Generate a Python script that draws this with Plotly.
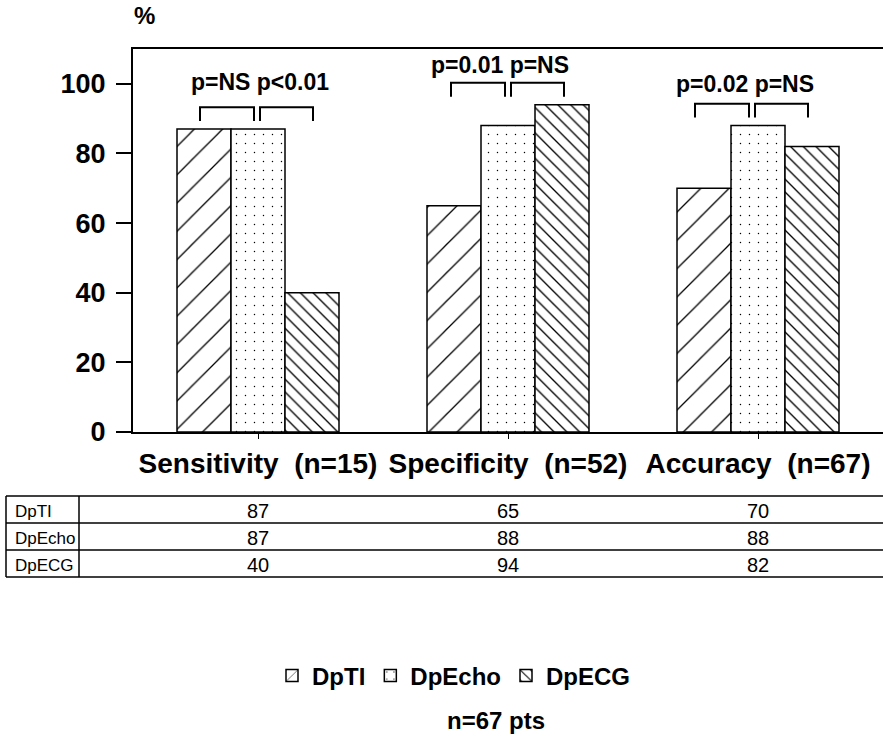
import plotly.graph_objects as go

# ---- data -------------------------------------------------------------
categories = ["Sensitivity", "Specificity", "Accuracy"]
group_n = [15, 52, 67]
methods = ["DpTI", "DpEcho", "DpECG"]
dpti = [87, 65, 70]
dpecho = [87, 88, 88]
dpecg = [40, 94, 82]
p_tl_vs_echo = ["p=NS", "p=0.01", "p=0.02"]
p_echo_vs_ecg = ["p<0.01", "p=NS", "p=NS"]
y_ticks = [0, 20, 40, 60, 80, 100]
total_pts = 67

series = [dpti, dpecho, dpecg]

# ---- styling ----------------------------------------------------------
FONT = "Liberation Sans, Arial, Helvetica, sans-serif"
W, H = 883, 742
ML, MR, MT, MB = 133, 0, 49, 310
PLOT_W = W - ML - MR
PLOT_H = H - MT - MB

patterns = [
    dict(shape="/", size=20, solidity=0.065),
    dict(shape=".", size=9, solidity=0.02),
    dict(shape="\\", size=9, solidity=0.15),
]


def px_x(x):
    """pixel column -> paper x"""
    return (x - ML) / PLOT_W


def px_y(y):
    """pixel row -> paper y"""
    return (MT + PLOT_H - y) / PLOT_H


cat_labels = [f"{c}\u00a0 (n={n})" for c, n in zip(categories, group_n)]

fig = go.Figure()
for name, vals, pat in zip(methods, series, patterns):
    fig.add_trace(go.Bar(
        x=categories, y=vals, name=name,
        marker=dict(
            color="white",
            line=dict(color="black", width=1.5),
            pattern=dict(fgcolor="black", bgcolor="white", fillmode="replace", **pat),
        ),
    ))

# ---- significance brackets and p-value labels ------------------------
bar_w = 0.216
bracket_shift = [0.0, 0.004, -0.02]
text_dx = [0.006, -0.032, -0.054]
text_lift = [7.2, 5.1, 5.7]
shapes = []
annotations = []
for i in range(len(categories)):
    top_bar = max(s[i] for s in series)
    y_leg = top_bar + 2.3
    y_top = y_leg + 4.0
    s = bracket_shift[i]
    spans = [(i - bar_w - 0.016 + s, i - 0.016 + s),
             (i + 0.008 + s, i + bar_w + 0.004 + s)]
    for x0, x1 in spans:
        shapes.append(dict(
            type="path", xref="x", yref="y",
            path=f"M{x0},{y_leg} L{x0},{y_top} L{x1},{y_top} L{x1},{y_leg}",
            line=dict(color="black", width=2),
        ))
    annotations.append(dict(
        x=i + text_dx[i], y=y_top + text_lift[i], xref="x", yref="y",
        text=f"{p_tl_vs_echo[i]} {p_echo_vs_ecg[i]}", showarrow=False,
        xanchor="center", yanchor="middle",
        font=dict(family=FONT, size=23, color="black", weight="bold"),
    ))

# ---- "%" unit label ---------------------------------------------------
annotations.append(dict(
    x=px_x(144), y=px_y(16), xref="paper", yref="paper", text="%",
    showarrow=False, xanchor="center", yanchor="middle",
    font=dict(family=FONT, size=24, color="black", weight="bold"),
))

# ---- value table below the axis --------------------------------------
row_lines = [496, 523, 550, 577]
tab_left, tab_div, tab_right = 6, 79, W
for yy in row_lines:
    shapes.append(dict(type="line", xref="paper", yref="paper",
                       x0=px_x(tab_left), x1=px_x(tab_right),
                       y0=px_y(yy), y1=px_y(yy),
                       line=dict(color="black", width=1.5)))
for xx in (tab_left, tab_div):
    shapes.append(dict(type="line", xref="paper", yref="paper",
                       x0=px_x(xx), x1=px_x(xx),
                       y0=px_y(row_lines[0]), y1=px_y(row_lines[-1]),
                       line=dict(color="black", width=1.5)))

for r, (name, vals) in enumerate(zip(methods, series)):
    yc = (row_lines[r] + row_lines[r + 1]) / 2 + 1.5
    annotations.append(dict(
        x=px_x(13), y=px_y(yc), xref="paper", yref="paper", text=name,
        showarrow=False, xanchor="left", yanchor="middle",
        font=dict(family=FONT, size=17, color="black"),
    ))
    for i, v in enumerate(vals):
        annotations.append(dict(
            x=i, y=px_y(yc), xref="x", yref="paper", text=str(v),
            showarrow=False, xanchor="center", yanchor="middle",
            font=dict(family=FONT, size=20, color="black"),
        ))

# ---- patient count ----------------------------------------------------
annotations.append(dict(
    x=px_x(496), y=px_y(720), xref="paper", yref="paper",
    text=f"n={total_pts} pts", showarrow=False,
    xanchor="center", yanchor="middle",
    font=dict(family=FONT, size=24, color="black", weight="bold"),
))

fig.update_layout(
    width=W, height=H, autosize=False,
    margin=dict(l=ML, r=MR, t=MT, b=MB, pad=0),
    paper_bgcolor="white", plot_bgcolor="white",
    barmode="group", bargap=0.352, bargroupgap=0,
    font=dict(family=FONT, color="black"),
    showlegend=True,
    legend=dict(
        orientation="h", x=px_x(272), y=px_y(676),
        xanchor="left", yanchor="middle",
        font=dict(family=FONT, size=24, color="black", weight="bold"),
        bgcolor="rgba(0,0,0,0)", itemclick=False,
    ),
    xaxis=dict(
        type="category", range=[-0.5, 2.5],
        tickvals=categories, ticktext=cat_labels,
        showline=True, mirror=True, linecolor="black", linewidth=2,
        ticks="outside", ticklen=5, tickwidth=1, tickcolor="black",
        tickfont=dict(family=FONT, size=28, color="black", weight="bold"),
        showgrid=False, zeroline=False, fixedrange=True,
    ),
    yaxis=dict(
        range=[0, 110], tickvals=y_ticks,
        showline=True, mirror=False, linecolor="black", linewidth=2,
        ticks="outside", ticklen=15, tickwidth=1.5, tickcolor="black",
        ticklabelstandoff=5,
        tickfont=dict(family=FONT, size=27, color="black", weight="bold"),
        showgrid=False, zeroline=False, fixedrange=True,
    ),
    shapes=shapes,
    annotations=annotations,
)

fig.write_html("out.html", config={"displayModeBar": False})
